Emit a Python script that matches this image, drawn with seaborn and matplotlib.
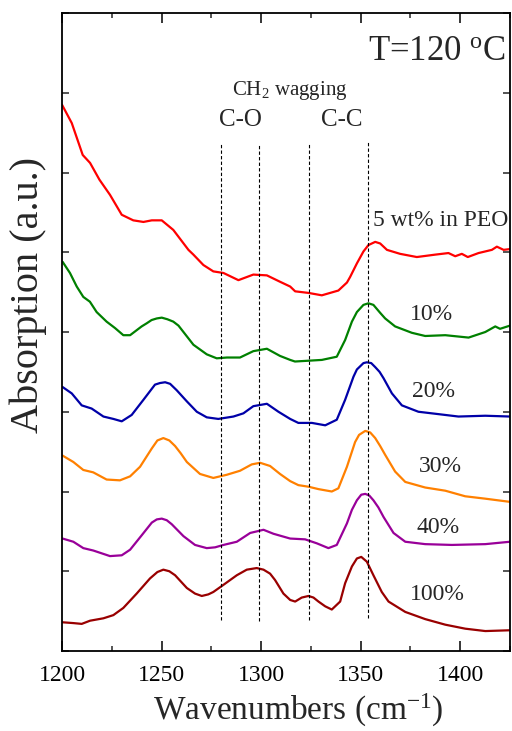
import matplotlib
matplotlib.use("Agg")
import matplotlib.pyplot as plt
import seaborn as sns
import pandas as pd
from matplotlib.ticker import MultipleLocator

# ---------------- data ----------------
samples = ["5 wt% in PEO", "10%", "20%", "30%", "40%", "100%"]
colors = ["#ff0000", "#008000", "#0000a8", "#ff8000", "#990099", "#990000"]

wn_5 = [1200, 1204.9, 1210.4, 1214.1, 1218.8, 1224.1, 1230, 1235.8, 1240.9, 1245.1, 1250.1,
        1255.9, 1263.5, 1266, 1271, 1276, 1281.1, 1288.6, 1296.1, 1302.9, 1309.5, 1314.6,
        1317.1, 1323.8, 1330.5, 1338.8, 1343.1, 1344.7, 1348.1, 1351.4, 1353.9, 1357.3,
        1359.8, 1363.2, 1369.8, 1378.2, 1387.4, 1394.1, 1397.5, 1400.8, 1403.8, 1409.2,
        1415.9, 1418.4, 1421.8, 1425]
abs_5 = [6.85, 6.62, 6.22, 6.12, 5.91, 5.72, 5.47, 5.40, 5.38, 5.40, 5.40,
         5.28, 5.03, 4.97, 4.84, 4.76, 4.74, 4.65, 4.72, 4.71, 4.63, 4.57,
         4.51, 4.49, 4.46, 4.52, 4.62, 4.69, 4.86, 5.01, 5.09, 5.13,
         5.11, 5.03, 4.98, 4.94, 4.97, 4.99, 4.95, 4.98, 4.94, 4.99,
         5.03, 5.07, 5.03, 5.04]

wn_10 = [1200.3, 1204, 1207.4, 1210.7, 1214, 1217.4, 1222.4, 1226.6, 1230.8, 1234.2, 1240,
         1242.6, 1245, 1247.6, 1250.1, 1252.9, 1255.9, 1258.5, 1261, 1266, 1272.7, 1277.7,
         1282.8, 1289.4, 1296.1, 1302.9, 1309.5, 1314.6, 1317, 1323.8, 1330.5, 1338, 1342.2,
         1345.6, 1348.1, 1351.4, 1353.9, 1356.4, 1359.8, 1362.3, 1367.3, 1375.7, 1382.4,
         1392.5, 1404.2, 1412.6, 1417.6, 1420, 1425]
abs_10 = [4.88, 4.74, 4.57, 4.44, 4.38, 4.25, 4.13, 4.05, 3.96, 3.96, 4.07,
          4.11, 4.15, 4.17, 4.18, 4.16, 4.13, 4.08, 4.00, 3.84, 3.72, 3.67,
          3.68, 3.68, 3.76, 3.79, 3.70, 3.65, 3.63, 3.64, 3.65, 3.69, 3.90,
          4.13, 4.25, 4.34, 4.36, 4.34, 4.24, 4.17, 4.07, 3.99, 3.95,
          3.96, 3.93, 4.00, 4.07, 4.04, 4.08]

wn_20 = [1200.3, 1204.9, 1209.9, 1214.9, 1220.8, 1225.8, 1230, 1235, 1240.9, 1246.7, 1249.2,
         1251.8, 1254.3, 1257.6, 1262.7, 1267.7, 1272.7, 1278.5, 1286.1, 1291.1, 1296.1,
         1302.9, 1308.7, 1314.6, 1318.7, 1325.5, 1332.2, 1338, 1342.2, 1346.4, 1348.1,
         1351.4, 1353.1, 1355.3, 1357.3, 1359.5, 1361.5, 1365.7, 1370.7, 1379, 1389.1,
         1399.1, 1412.6, 1425]
abs_20 = [3.31, 3.23, 3.08, 3.04, 2.94, 2.91, 2.88, 2.96, 3.15, 3.34, 3.36,
          3.37, 3.35, 3.27, 3.13, 3.00, 2.93, 2.91, 2.94, 2.98, 3.07,
          3.10, 3.00, 2.91, 2.86, 2.86, 2.83, 2.90, 3.15, 3.44, 3.53,
          3.61, 3.62, 3.61, 3.56, 3.50, 3.42, 3.23, 3.08, 3.00, 2.97,
          2.94, 2.95, 2.94]

wn_30 = [1200.3, 1205.7, 1210.7, 1215.7, 1222.4, 1229.1, 1234.2, 1239.2, 1245.1, 1247.9,
         1250.9, 1253.9, 1256.8, 1259.6, 1262.7, 1269.3, 1276, 1282.8, 1289.4, 1295.3,
         1299.5, 1304.5, 1309.5, 1314.6, 1318.7, 1323.8, 1328.8, 1335.5, 1338.8, 1343.1,
         1347.2, 1349.2, 1352.3, 1354.8, 1357.3, 1359.8, 1362.3, 1367.3, 1372.4, 1382.4,
         1392.5, 1402.5, 1412.6, 1425]
abs_30 = [2.45, 2.37, 2.27, 2.24, 2.15, 2.14, 2.19, 2.31, 2.54, 2.64,
          2.67, 2.64, 2.57, 2.48, 2.37, 2.22, 2.17, 2.21, 2.26, 2.34,
          2.36, 2.32, 2.22, 2.13, 2.08, 2.06, 2.03, 2.00, 2.04, 2.31,
          2.62, 2.71, 2.76, 2.74, 2.67, 2.57, 2.46, 2.25, 2.12, 2.05,
          2.01, 1.94, 1.91, 1.87]

wn_40 = [1200.3, 1205.7, 1210.7, 1215.7, 1224.1, 1230, 1234.2, 1240, 1245.1, 1247.6,
         1250.1, 1252.6, 1255.1, 1261, 1266.8, 1272.7, 1276.9, 1281.1, 1287.8, 1294.5,
         1301.2, 1306.2, 1314.6, 1322.1, 1328, 1333.8, 1338, 1343.1, 1345.6, 1348.1,
         1350.3, 1352.3, 1354.3, 1356.4, 1358.9, 1361.5, 1366.5, 1372.4, 1382.4, 1395.8,
         1412.6, 1425]
abs_40 = [1.41, 1.37, 1.29, 1.26, 1.19, 1.20, 1.27, 1.45, 1.61, 1.65,
          1.66, 1.64, 1.59, 1.44, 1.33, 1.29, 1.30, 1.33, 1.37, 1.48,
          1.52, 1.47, 1.41, 1.40, 1.35, 1.29, 1.33, 1.60, 1.77, 1.89,
          1.96, 1.97, 1.95, 1.89, 1.80, 1.68, 1.48, 1.37, 1.34, 1.33,
          1.34, 1.37]

wn_100 = [1200.3, 1205.7, 1209.9, 1214.1, 1220.8, 1225.8, 1230.8, 1237.5, 1244.2, 1247.9,
          1250.9, 1253.9, 1256.8, 1262.7, 1266.8, 1270.2, 1273.5, 1276, 1281.1, 1287.8,
          1292.8, 1297.8, 1301.2, 1304.5, 1307, 1311.2, 1314.6, 1317.1, 1320.4, 1323.8,
          1326.3, 1328.8, 1332.2, 1335.5, 1339.7, 1342.2, 1345.6, 1348.1, 1350.3, 1353.1,
          1356.4, 1360.6, 1364, 1372.4, 1382.4, 1392.5, 1402.5, 1412.6, 1425]
abs_100 = [0.36, 0.35, 0.34, 0.38, 0.41, 0.45, 0.54, 0.72, 0.91, 0.99,
           1.02, 1.00, 0.95, 0.79, 0.72, 0.69, 0.71, 0.74, 0.83, 0.95,
           1.02, 1.04, 1.02, 0.97, 0.89, 0.72, 0.64, 0.62, 0.67, 0.69,
           0.67, 0.62, 0.56, 0.52, 0.62, 0.85, 1.06, 1.16, 1.18, 1.12,
           0.95, 0.74, 0.62, 0.49, 0.40, 0.33, 0.28, 0.25, 0.26]

# band marker positions (cm^-1)
band_positions = [1280, 1299, 1324, 1353.5]
band_bottoms = [0.39, 0.37, 0.39, 0.42]
band_tops = [6.37, 6.36, 6.37, 6.40]

xticks = [1200, 1250, 1300, 1350, 1400]

# ---------------- build long table ----------------
series = [(wn_5, abs_5), (wn_10, abs_10), (wn_20, abs_20),
          (wn_30, abs_30), (wn_40, abs_40), (wn_100, abs_100)]
frames = []
for name, (w, a) in zip(samples, series):
    frames.append(pd.DataFrame({"wn": w, "abs": a, "sample": name}))
df = pd.concat(frames, ignore_index=True)

# ---------------- style ----------------
sns.set_style("ticks")
plt.rcParams["font.family"] = ["Liberation Serif", "DejaVu Serif"]
plt.rcParams["mathtext.fontset"] = "custom"
plt.rcParams["mathtext.rm"] = "Liberation Serif"
plt.rcParams["mathtext.it"] = "Liberation Serif:italic"
plt.rcParams["mathtext.bf"] = "Liberation Serif:bold"

fig = plt.figure(figsize=(5.12, 7.31), dpi=100)
ax = fig.add_axes([62 / 512, 80 / 731, 448 / 512, 638 / 731])

sns.lineplot(data=df, x="wn", y="abs", hue="sample", hue_order=samples,
             palette=dict(zip(samples, colors)), estimator=None, legend=False,
             linewidth=1.6, ax=ax)
for ln in ax.get_lines():
    ln.set_solid_joinstyle("round")

for xpos, yb, yt in zip(band_positions, band_bottoms, band_tops):
    ax.vlines(xpos, yb, yt, colors="black", linestyles=(0, (3, 2)), linewidth=0.8)

ax.set_xlim(1200, 1425)
ax.set_ylim(0, 8)
ax.set_xticks(xticks)
ax.xaxis.set_minor_locator(MultipleLocator(25))
ax.yaxis.set_major_locator(MultipleLocator(1))
ax.tick_params(axis="x", which="major", direction="in", length=7, width=1.1,
               top=True, bottom=True, labelsize=17, pad=10, colors="black")
ax.tick_params(axis="x", which="minor", direction="in", length=3.5, width=1.1,
               top=True, bottom=True)
ax.tick_params(axis="y", which="major", direction="in", length=5, width=1.1,
               left=True, right=True, labelleft=False)
for s in ax.spines.values():
    s.set_linewidth(1.3)
    s.set_color("black")
    s.set_visible(True)

ax.set_xlabel(r"Wavenumbers (cm$^{\mathrm{-1}}$)", fontsize=24)
ax.xaxis.set_label_coords(0.527, -0.107, transform=ax.transAxes)
ax.xaxis.label.set_va("baseline")
ax.set_ylabel("Absorption (a.u.)", fontsize=29)
ax.yaxis.set_label_coords(-0.075, 0.558, transform=ax.transAxes)
ax.yaxis.label.set_va("center")

# annotations
ax.text(1388.4, 7.41, r"T=120 $^{\mathrm{o}}$C", fontsize=25, ha="center", va="baseline")
ax.text(1314.3, 6.97, r"CH$_2$ wagging", fontsize=15, ha="center", va="baseline")
ax.text(1289.4, 6.58, "C-O", fontsize=18, ha="center", va="baseline")
ax.text(1340.7, 6.58, "C-C", fontsize=18, ha="center", va="baseline")
label_x = [1390, 1385.4, 1386.4, 1390, 1388.7, 1388.7]
label_y = [5.33, 4.15, 3.185, 2.25, 1.48, 0.64]
for name, lx, ly in zip(samples, label_x, label_y):
    ax.text(lx, ly, name, fontsize=17, ha="center", va="baseline")

fig.savefig("out.png", dpi=100)
